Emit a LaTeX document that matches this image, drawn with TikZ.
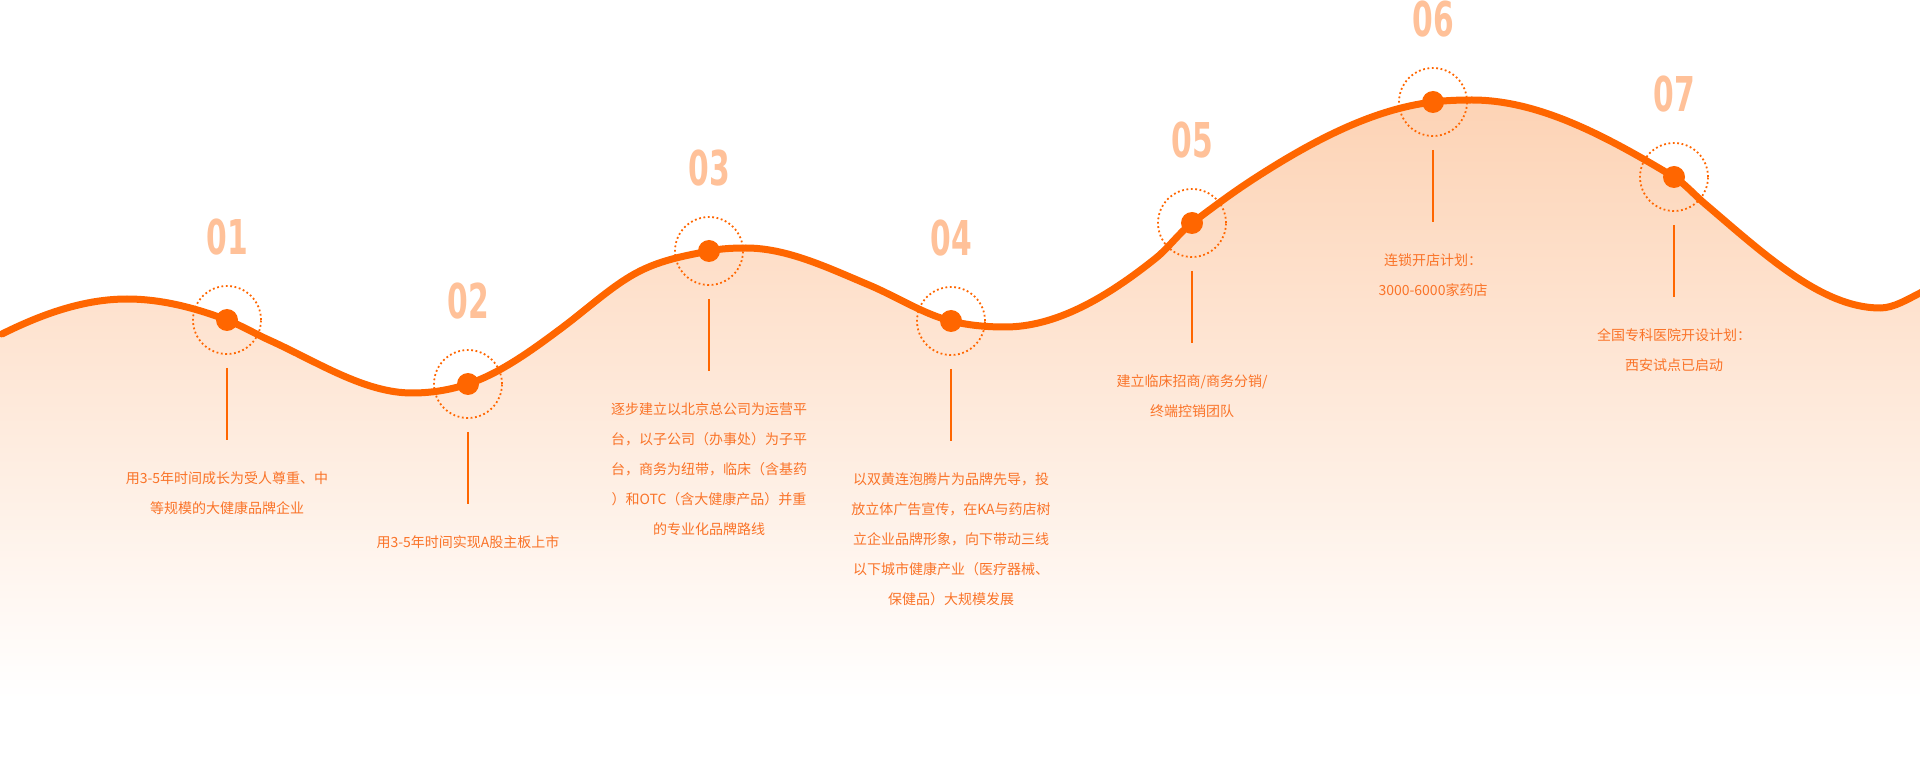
\documentclass[tikz,border=0pt]{standalone}
\usepackage{fontspec}
\setmainfont{Noto Sans CJK SC}
\newfontfamily\numfont[FakeStretch=0.62]{DejaVu Sans}
\usepackage{tikz}
\usetikzlibrary{positioning}
\definecolor{wave}{HTML}{FF6600}
\definecolor{ink}{HTML}{FA7328}
\definecolor{peach}{HTML}{FFC199}
\definecolor{glow}{HTML}{FDD3B5}

\begin{document}
\begin{tikzpicture}[x=1pt,y=-1pt,node distance=1cm,
	dot node/.style={circle,fill=wave,inner sep=0pt,outer sep=0pt,minimum size=22pt},
	ring node/.style={circle,draw=wave,line width=1.8pt,dash pattern=on 1.8pt off 2.6pt,inner sep=0pt,outer sep=0pt,minimum size=68pt},
	num node/.style={font=\numfont\bfseries\fontsize{48}{48}\selectfont,text=peach,inner sep=0pt},
	note node/.style={font=\fontsize{14}{30}\selectfont,text=ink,align=center,inner sep=0pt},
	stem/.style={draw=wave,line width=1.3pt}]
		
		\fill[white] (0,0) rectangle (1920,775);
		\useasboundingbox (0,0) rectangle (1920,775);
		
		\shade[top color=glow,bottom color=white] (0,700) -- (0,335) -- (2,334)
		.. controls (43.7,313.2) and (85.3,299) .. (127,299)
		.. controls (160.3,299) and (193.7,307.3) .. (227,320)
		.. controls (241,325.3) and (255,333.7) .. (269,340)
		.. controls (316.7,361.5) and (364.3,393) .. (412,393)
		.. controls (430.7,393) and (449.3,390.2) .. (468,384)
		.. controls (499.7,373.5) and (531.3,350.8) .. (563,327)
		.. controls (588.7,307.7) and (614.3,283.8) .. (640,271)
		.. controls (663,259.5) and (686,255.6) .. (709,251)
		.. controls (721.3,248.5) and (733.7,248) .. (746,248)
		.. controls (787,248) and (828,267.8) .. (869,285)
		.. controls (896.3,296.5) and (923.7,314.2) .. (951,321)
		.. controls (969,325.5) and (987,327) .. (1005,327)
		.. controls (1055.3,327) and (1105.7,298.3) .. (1156,258)
		.. controls (1168,248.4) and (1180,232) .. (1192,223)
		.. controls (1212,208) and (1232,193) .. (1252,180)
		.. controls (1312.3,140.8) and (1372.7,109.2) .. (1433,102)
		.. controls (1446,100.4) and (1459,100) .. (1472,100)
		.. controls (1539.3,100) and (1606.7,136.6) .. (1674,177)
		.. controls (1684,183) and (1694,194.5) .. (1704,203)
		.. controls (1762.7,252.9) and (1821.3,308) .. (1880,308)
		.. controls (1894,308) and (1908,299) .. (1922,292)
		-- (1922,700) -- cycle;
		
		\draw[wave,line width=7pt,line cap=round] (2,334)
		.. controls (43.7,313.2) and (85.3,299) .. (127,299)
		.. controls (160.3,299) and (193.7,307.3) .. (227,320)
		.. controls (241,325.3) and (255,333.7) .. (269,340)
		.. controls (316.7,361.5) and (364.3,393) .. (412,393)
		.. controls (430.7,393) and (449.3,390.2) .. (468,384)
		.. controls (499.7,373.5) and (531.3,350.8) .. (563,327)
		.. controls (588.7,307.7) and (614.3,283.8) .. (640,271)
		.. controls (663,259.5) and (686,255.6) .. (709,251)
		.. controls (721.3,248.5) and (733.7,248) .. (746,248)
		.. controls (787,248) and (828,267.8) .. (869,285)
		.. controls (896.3,296.5) and (923.7,314.2) .. (951,321)
		.. controls (969,325.5) and (987,327) .. (1005,327)
		.. controls (1055.3,327) and (1105.7,298.3) .. (1156,258)
		.. controls (1168,248.4) and (1180,232) .. (1192,223)
		.. controls (1212,208) and (1232,193) .. (1252,180)
		.. controls (1312.3,140.8) and (1372.7,109.2) .. (1433,102)
		.. controls (1446,100.4) and (1459,100) .. (1472,100)
		.. controls (1539.3,100) and (1606.7,136.6) .. (1674,177)
		.. controls (1684,183) and (1694,194.5) .. (1704,203)
		.. controls (1762.7,252.9) and (1821.3,308) .. (1880,308)
		.. controls (1894,308) and (1908,299) .. (1922,292);
		
		\node[dot node] (d1) at (227,320) {};
		\node[dot node] (d2) at (468,384) {};
		\node[dot node] (d3) at (709,251) {};
		\node[dot node] (d4) at (951,321) {};
		\node[dot node] (d5) at (1192,223) {};
		\node[dot node] (d6) at (1433,102) {};
		\node[dot node] (d7) at (1674,177) {};
		
		\node[ring node] (r1) at (d1) {};
		\node[ring node] (r2) at (d2) {};
		\node[ring node] (r3) at (d3) {};
		\node[ring node] (r4) at (d4) {};
		\node[ring node] (r5) at (d5) {};
		\node[ring node] (r6) at (d6) {};
		\node[ring node] (r7) at (d7) {};
		
		\node[num node] (n1) [above=31pt of r1] {01};
		\node[num node] (n2) [above=31pt of r2] {02};
		\node[num node] (n3) [above=31pt of r3] {03};
		\node[num node] (n4) [above=31pt of r4] {04};
		\node[num node] (n5) [above=31pt of r5] {05};
		\node[num node] (n6) [above=31pt of r6] {06};
		\node[num node] (n7) [above=31pt of r7] {07};
		
		\node[note node] (t1) [below=117pt of r1] {用3-5年时间成长为受人尊重、中\\等规模的大健康品牌企业};
		\node[note node] (t2) [below=117pt of r2] {用3-5年时间实现A股主板上市};
		\node[note node] (t3) [below=117pt of r3] {逐步建立以北京总公司为运营平\\台，以子公司（办事处）为子平\\台，商务为纽带，临床（含基药\\）和OTC（含大健康产品）并重\\的专业化品牌路线};
		\node[note node] (t4) [below=117pt of r4] {以双黄连泡腾片为品牌先导，投\\放立体广告宣传，在KA与药店树\\立企业品牌形象，向下带动三线\\以下城市健康产业（医疗器械、\\保健品）大规模发展};
		\node[note node] (t5) [below=117pt of r5] {建立临床招商/商务分销/\\终端控销团队};
		\node[note node] (t6) [below=117pt of r6] {连锁开店计划：\\3000-6000家药店};
		\node[note node] (t7) [below=117pt of r7] {全国专科医院开设计划：\\西安试点已启动};
		
		\path[stem]
		([yshift=-14pt]r1.south) edge ([yshift=31pt]t1.north)
		([yshift=-14pt]r2.south) edge ([yshift=31pt]t2.north)
		([yshift=-14pt]r3.south) edge ([yshift=31pt]t3.north)
		([yshift=-14pt]r4.south) edge ([yshift=31pt]t4.north)
		([yshift=-14pt]r5.south) edge ([yshift=31pt]t5.north)
		([yshift=-14pt]r6.south) edge ([yshift=31pt]t6.north)
		([yshift=-14pt]r7.south) edge ([yshift=31pt]t7.north);
		
\end{tikzpicture}
\end{document}
